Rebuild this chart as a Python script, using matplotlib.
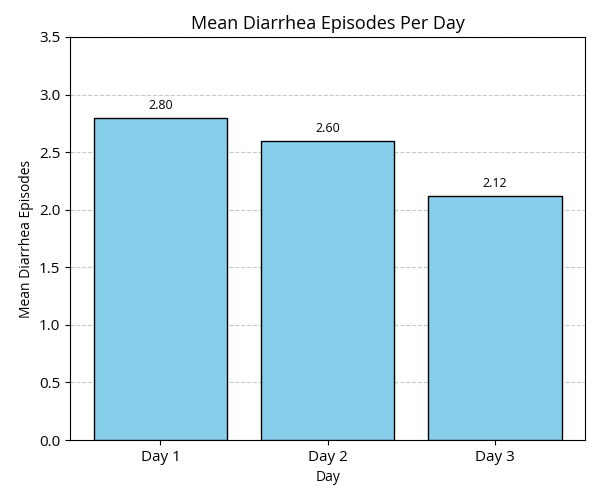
import matplotlib
matplotlib.use('Agg')
import matplotlib.pyplot as plt

days = ['Day 1', 'Day 2', 'Day 3']
mean_episodes = [2.80, 2.60, 2.12]

plt.rcParams['font.family'] = ['Open Sans', 'DejaVu Sans']

fig, ax = plt.subplots(figsize=(6, 5), dpi=100)
bars = ax.bar(days, mean_episodes, width=0.8, color='skyblue', edgecolor='black', linewidth=1.0, zorder=3)

for b, v in zip(bars, mean_episodes):
    ax.text(b.get_x() + b.get_width() / 2, v + 0.05, '{:.2f}'.format(v),
            ha='center', va='bottom', fontsize=9)

ax.set_title('Mean Diarrhea Episodes Per Day', fontsize=13)
ax.set_xlabel('Day', fontsize=10)
ax.set_ylabel('Mean Diarrhea Episodes', fontsize=10)
ax.set_ylim(0, 3.5)
ax.tick_params(labelsize=11)
ax.grid(axis='y', linestyle='--', color='#bbbbbb', alpha=0.8, zorder=0)
plt.subplots_adjust(left=0.117, right=0.975, top=0.926, bottom=0.12)

plt.savefig('out.png', dpi=100)
